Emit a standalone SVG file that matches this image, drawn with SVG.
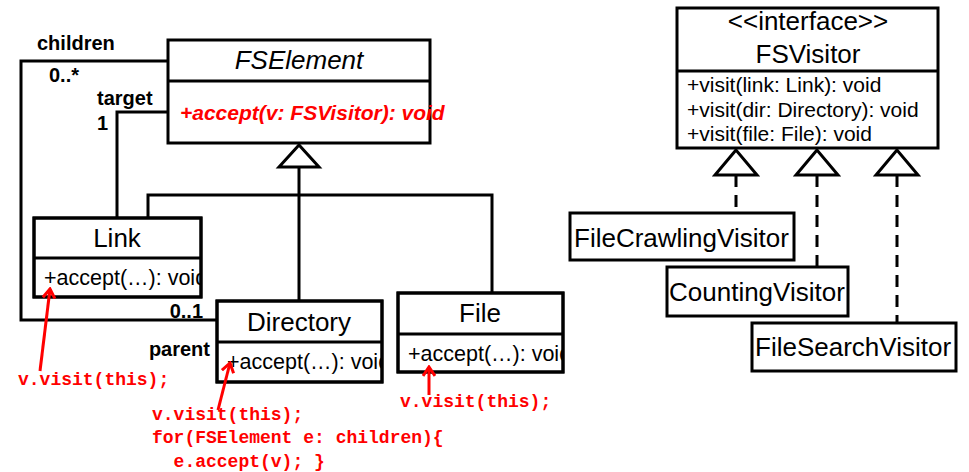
<svg xmlns="http://www.w3.org/2000/svg" width="969" height="472" viewBox="0 0 969 472">
  <style>
    .box { fill: #fff; stroke: #000; stroke-width: 3; }
    .frame { fill: none; stroke: #000; stroke-width: 3; }
    .ln { fill: none; stroke: #000; stroke-width: 3; }
    .dash { fill: none; stroke: #000; stroke-width: 3; stroke-dasharray: 12 8; }
    .tri { fill: #fff; stroke: #000; stroke-width: 3; }
    .title { font-family: "Liberation Sans", Arial, sans-serif; font-size: 26px; fill: #000; }
    .op { font-family: "Liberation Sans", Arial, sans-serif; font-size: 21px; fill: #000; }
    .acc { font-family: "Liberation Sans", Arial, sans-serif; font-size: 21.5px; fill: #000; }
    .role { font-family: "Liberation Sans", Arial, sans-serif; font-size: 20px; font-weight: bold; fill: #000; }
    .code { font-family: "Liberation Mono", "Courier New", monospace; font-size: 18px; font-weight: bold; fill: #ff0000; }
    .note { fill: none; stroke: #ff0000; stroke-width: 3; }
  </style>
  <defs>
    <marker id="openArrow" viewBox="0 0 12 14" refX="10" refY="7" markerWidth="12" markerHeight="14" markerUnits="userSpaceOnUse" orient="auto">
      <path d="M1,1 L10,7 L1,13" fill="none" stroke="#ff0000" stroke-width="3"/>
    </marker>
    <!-- operation compartments clip their text at the class border -->
    <clipPath id="clipLink"><rect x="34" y="258" width="168" height="40"/></clipPath>
    <clipPath id="clipDir"><rect x="217" y="342" width="166" height="41"/></clipPath>
    <clipPath id="clipFile"><rect x="398" y="334" width="166" height="39"/></clipPath>
  </defs>

  <rect width="969" height="472" fill="#fff"/>

  <!-- associations, generalizations and realizations -->
  <g id="connectors">
    <!-- children 0..* / parent 0..1 -->
    <polyline class="ln" points="168,61 21,61 21,320 217,320"/>
    <!-- target 1 -->
    <polyline class="ln" points="168,112 117,112 117,218"/>
    <!-- inheritance tree under FSElement -->
    <line class="ln" x1="299" y1="167" x2="299" y2="301"/>
    <polyline class="ln" points="148,218 148,195 492,195 492,293"/>
    <polygon class="tri" points="299,145 279,167 319,167"/>
    <!-- realizations of FSVisitor -->
    <line class="dash" x1="736" y1="175" x2="736" y2="213"/>
    <line class="dash" x1="817" y1="175" x2="817" y2="267"/>
    <line class="dash" x1="897" y1="175" x2="897" y2="323"/>
    <polygon class="tri" points="736,150 715,175 757,175"/>
    <polygon class="tri" points="817,150 796,175 838,175"/>
    <polygon class="tri" points="897,150 876,175 918,175"/>
    <!-- association end labels -->
    <text class="role" x="37" y="50">children</text>
    <text class="role" x="49" y="82">0..*</text>
    <text class="role" x="97" y="105">target</text>
    <text class="role" x="97" y="130">1</text>
    <text class="role" x="203" y="318" text-anchor="end">0..1</text>
    <text class="role" x="210" y="356" text-anchor="end">parent</text>
  </g>

  <g id="FSElement">
    <rect class="box" x="168" y="40" width="262" height="103"/>
    <line class="ln" x1="168" y1="81" x2="430" y2="81"/>
    <text class="title" x="299" y="69" text-anchor="middle" font-style="italic">FSElement</text>
    <text x="180" y="120" font-family="Liberation Sans, Arial, sans-serif" font-size="21" font-weight="bold" font-style="italic" fill="#ff0000">+accept(v: FSVisitor): void</text>
  </g>

  <g id="Link">
    <rect class="box" x="34" y="218" width="167" height="79"/>
    <text class="title" x="117" y="247" text-anchor="middle">Link</text>
    <text class="acc" x="44" y="285" clip-path="url(#clipLink)">+accept(…): void</text>
    <rect class="frame" x="34" y="218" width="167" height="79"/>
    <line class="ln" x1="34" y1="258" x2="201" y2="258"/>
  </g>

  <g id="Directory">
    <rect class="box" x="217" y="301" width="165" height="81"/>
    <text class="title" x="299" y="331" text-anchor="middle">Directory</text>
    <text class="acc" x="227" y="369" clip-path="url(#clipDir)">+accept(…): void</text>
    <rect class="frame" x="217" y="301" width="165" height="81"/>
    <line class="ln" x1="217" y1="342" x2="382" y2="342"/>
  </g>

  <g id="File">
    <rect class="box" x="398" y="293" width="165" height="79"/>
    <text class="title" x="480" y="322" text-anchor="middle">File</text>
    <text class="acc" x="408" y="361" clip-path="url(#clipFile)">+accept(…): void</text>
    <rect class="frame" x="398" y="293" width="165" height="79"/>
    <line class="ln" x1="398" y1="334" x2="563" y2="334"/>
  </g>

  <g id="FSVisitor">
    <rect class="box" x="677" y="8" width="261" height="140"/>
    <line class="ln" x1="677" y1="71" x2="938" y2="71"/>
    <text class="title" x="808" y="30" text-anchor="middle">&lt;&lt;interface&gt;&gt;</text>
    <text class="title" x="808" y="63" text-anchor="middle">FSVisitor</text>
    <text class="op" x="687" y="92">+visit(link: Link): void</text>
    <text class="op" x="687" y="117">+visit(dir: Directory): void</text>
    <text class="op" x="687" y="141">+visit(file: File): void</text>
  </g>

  <g id="FileCrawlingVisitor">
    <rect class="box" x="570" y="213" width="224" height="47"/>
    <text class="title" x="574" y="247">FileCrawlingVisitor</text>
  </g>

  <g id="CountingVisitor">
    <rect class="box" x="667" y="267" width="181" height="49"/>
    <text class="title" x="669" y="301">CountingVisitor</text>
  </g>

  <g id="FileSearchVisitor">
    <rect class="box" x="752" y="323" width="204" height="48"/>
    <text class="title" x="755" y="356">FileSearchVisitor</text>
  </g>

  <!-- accept() implementations -->
  <g id="notes">
    <line class="note" x1="40" y1="371" x2="50" y2="289" marker-end="url(#openArrow)"/>
    <text class="code" x="18" y="385">v.visit(this);</text>
    <line class="note" x1="218" y1="410" x2="230" y2="363" marker-end="url(#openArrow)"/>
    <text class="code" x="152" y="420">v.visit(this);</text>
    <text class="code" x="152" y="443">for(FSElement e: children){</text>
    <text class="code" x="152" y="467" xml:space="preserve">  e.accept(v); }</text>
    <line class="note" x1="429" y1="395" x2="429" y2="367" marker-end="url(#openArrow)"/>
    <text class="code" x="400" y="407">v.visit(this);</text>
  </g>
</svg>
